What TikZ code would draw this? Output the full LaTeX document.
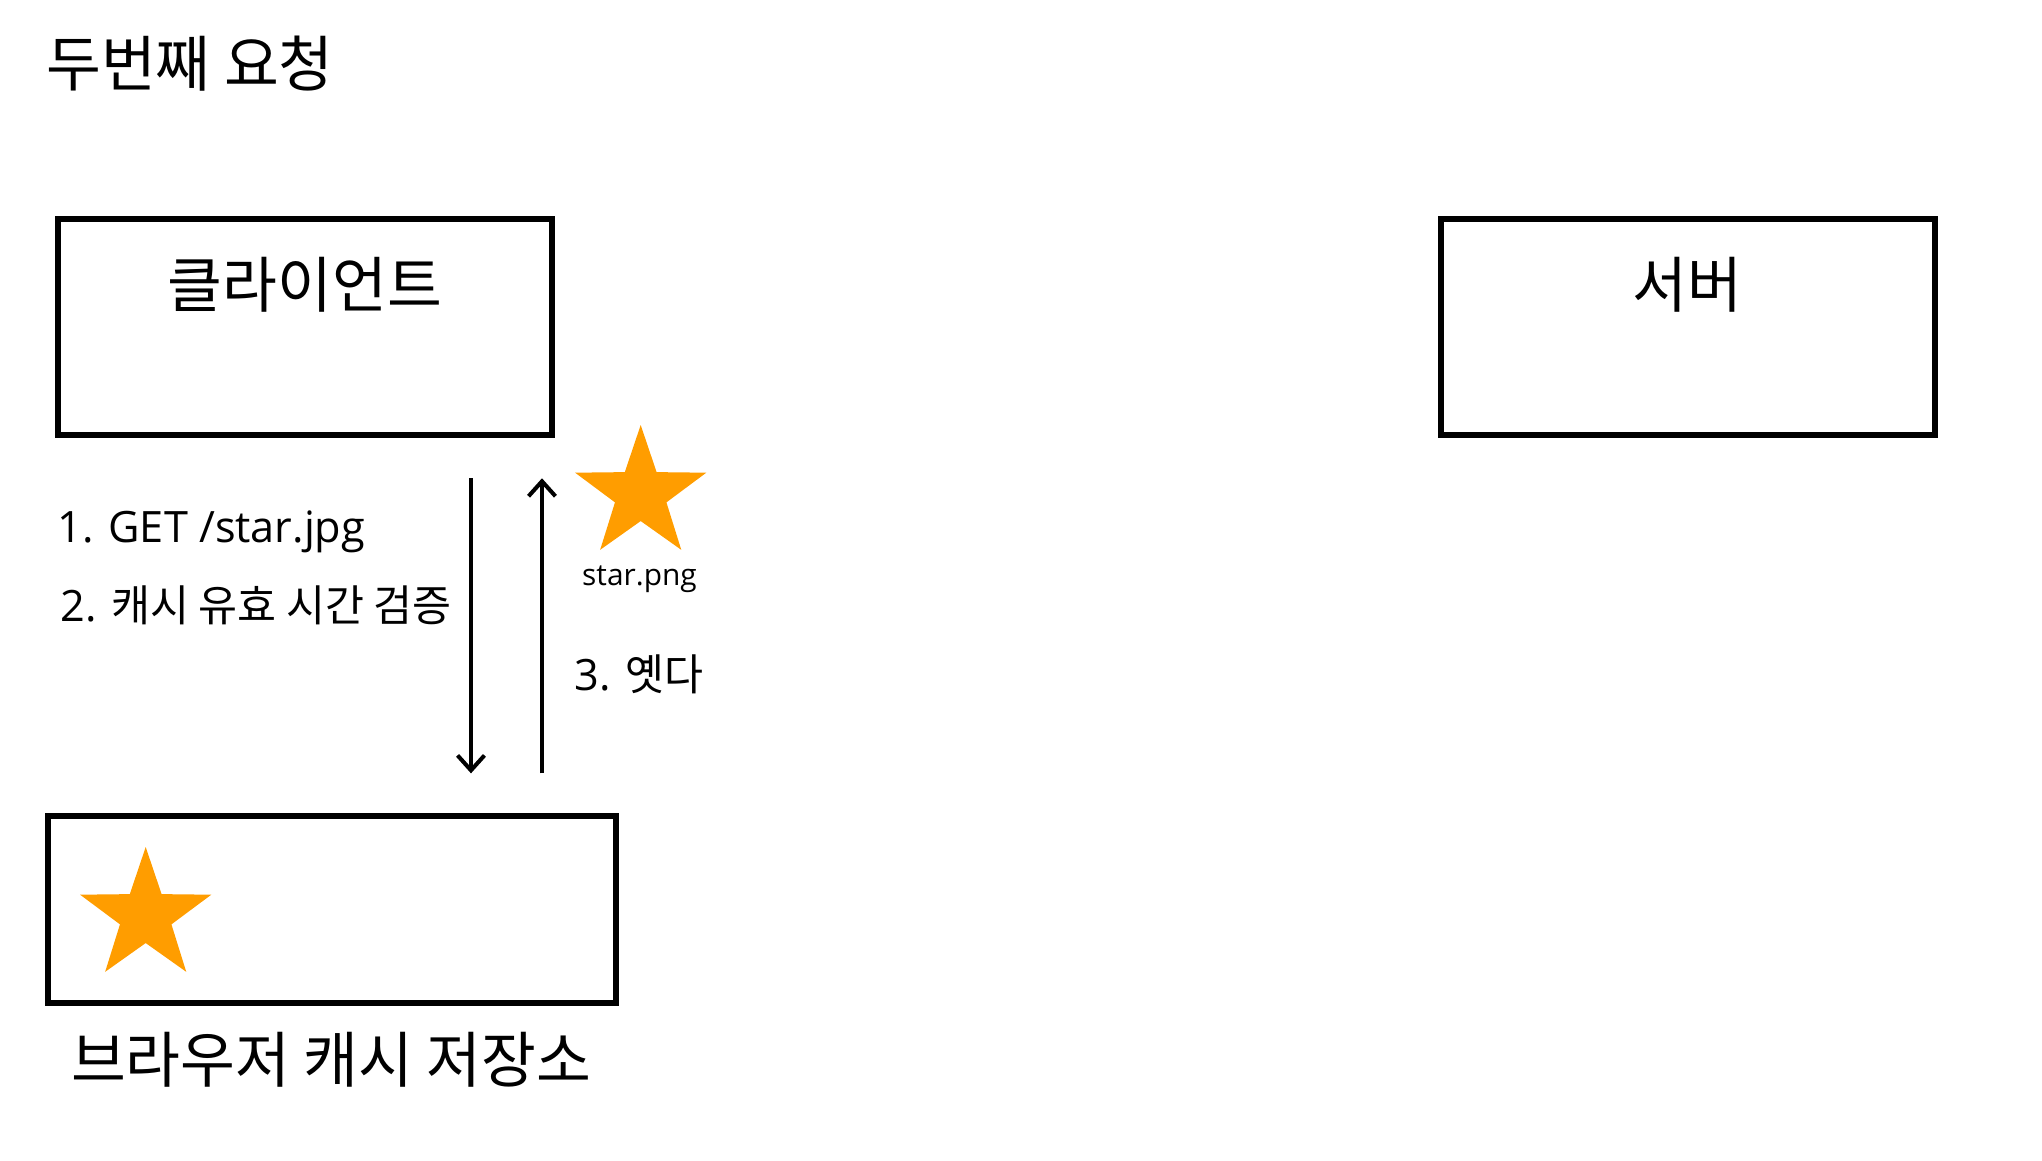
\documentclass[tikz,border=0pt]{standalone}
\usepackage{fontspec}
\setmainfont{Open Sans}
\newfontfamily\kr[FakeStretch=0.98]{Noto Sans CJK KR}
\usetikzlibrary{arrows.meta,shapes.geometric}
\definecolor{starorange}{RGB}{255,157,0}
\tikzset{
  box/.style={draw, line width=3.4pt, inner sep=0pt, minimum width=9.874cm, minimum height=4.326cm},
  bigtext/.style={inner sep=0pt, font=\kr\fontsize{34.6}{40}\selectfont},
  midtext/.style={inner sep=0pt, font=\fontsize{24.6}{28}\selectfont},
  tinytext/.style={inner sep=0pt, font=\fontsize{17}{20}\selectfont},
  flow/.style={line width=2.3pt, -{Straight Barb[length=8.5pt,width=15.3pt]}, shorten <=0.8cm, shorten >=0.8cm},
  starshape/.style={star, star points=5, star point ratio=2.55, fill=starorange, draw=none, inner sep=0pt, minimum size=2.76cm}
}
\begin{document}
\begin{tikzpicture}[x=0.02cm, y=-0.02cm]
\useasboundingbox (0,0) rectangle (2042,1160);
\node[bigtext, anchor=west] (title) at (46,64) {두번째 요청};
\node[box] (client) at (305.15,327.15) {};
\node[box] (server) at (1687.7,327.15) {};
\node[box, minimum width=11.354cm, minimum height=3.734cm] (cache) at (332.15,909.65) {};
\node[bigtext] (clientlbl) at (305,285) {클라이언트};
\node[bigtext] (serverlbl) at (1687.7,285) {서버};
\node[bigtext] (cachelbl) at (331,1060) {브라우저 캐시 저장소};
\node[starshape] (cachedstar) at (145.7,916) {};
\node[starshape] (sentstar) at (640.7,494) {};
\node[tinytext, anchor=base] (starname) at (639.5,585) {star.png};
\coordinate (reqx) at (471,0);
\coordinate (resx) at (542,0);
\draw[flow] (client.south -| reqx) -- (cache.north -| reqx);
\draw[flow] (cache.north -| resx) -- (client.south -| resx);
\node[midtext, anchor=base west] (getlbl) at (57,542) {1. GET /star.jpg};
\node[midtext, anchor=base west] (checklbl) at (60,621) {2. {\kr 캐시 유효 시간 검증}};
\node[midtext, anchor=base west] (herelbl) at (574,690) {3. {\kr 옛다}};
\end{tikzpicture}
\end{document}
